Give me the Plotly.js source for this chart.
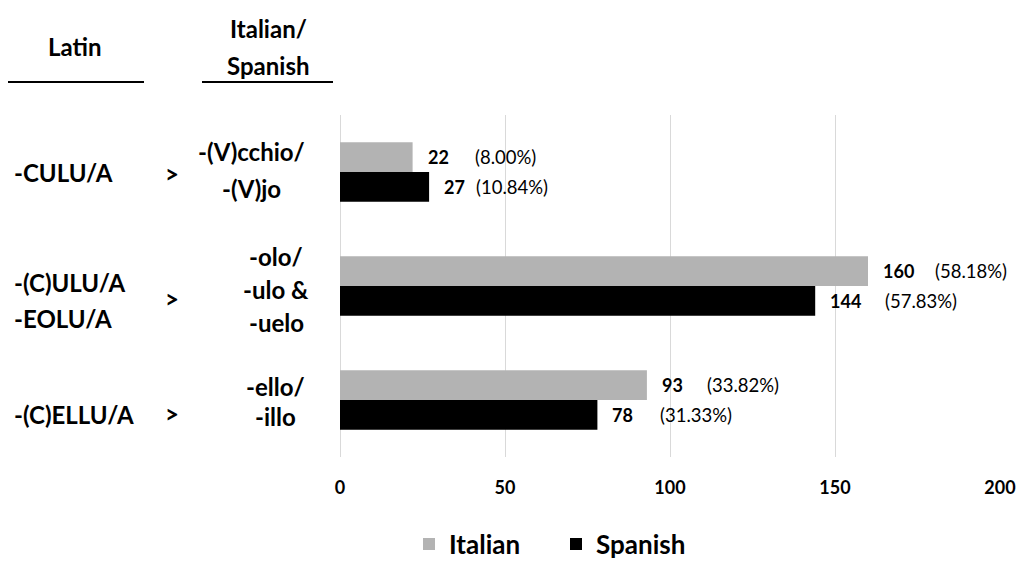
<!DOCTYPE html>
<html><head><meta charset="utf-8">
<script src="https://cdn.plot.ly/plotly-3.0.1.min.js"></script>
<style>html,body{margin:0;padding:0;background:#fff}#chart{width:1017px;height:564px}</style>
</head><body><div id="chart"></div>
<script>
// ---- data ----
const categories = ["-CULU/A", "-(C)ULU/A -EOLU/A", "-(C)ELLU/A"];
const latinLabels = ["-CULU/A", "-(C)ULU/A<br>-EOLU/A", "-(C)ELLU/A"];
const romanceLabels = ["-(V)cchio/<br>-(V)jo", "-olo/<br>-ulo &<br>-uelo", "-ello/<br>-illo"];
const italianValues = [22, 160, 93];
const spanishValues = [27, 144, 78];
const italianPct = ["(8.00%)", "(58.18%)", "(33.82%)"];
const spanishPct = ["(10.84%)", "(57.83%)", "(31.33%)"];
const xTicks = [0, 50, 100, 150, 200];
const headerLatin = "Latin";
const headerRomance = "Italian/<br>Spanish";
const arrowSign = ">";

// ---- layout helpers ----
const W = 1017, H = 564;
const M = {l: 340, r: 17, t: 115, b: 107, autoexpand: false};
const PW = W - M.l - M.r, PH = H - M.t - M.b;
const px = v => (v - M.l) / PW;
const py = v => (H - M.b - v) / PH;
const FONT = "Lato, 'Open Sans', sans-serif";
const bargap = 0.48;
const barOff = (1 - bargap) / 4;

// label box placement (pixels): vertical nudges (downward), line heights, horizontal centres
const latinShift = [0, 14, 14];
const arrowShift = [1, 12, 13];
const romanceShift = [-2, 3, 1];
const romanceX = [251, 276, 275];
const latinLH = 36, romanceLH = [37, 33, 30], headerLH = 37;
// horizontal offsets (px) of the percentage labels from the bar end
const pctShiftIt = [60, 65, 58];
const pctShiftEs = [45, 68, 61];

const traces = [
  {type: 'bar', orientation: 'h', name: 'Italian', y: categories, x: italianValues,
   marker: {color: '#b3b3b3'}, hoverinfo: 'skip'},
  {type: 'bar', orientation: 'h', name: 'Spanish', y: categories, x: spanishValues,
   marker: {color: '#000000'}, hoverinfo: 'skip'}
];

const annotations = [];
const labFont = {family: FONT, size: 24, color: '#000', weight: 'bold'};

categories.forEach((c, i) => {
  const ll = latinLabels[i].split('<br>');
  ll.forEach((ln, k) => {
    const off = (k - (ll.length - 1) / 2) * latinLH + latinShift[i];
    annotations.push({xref: 'paper', yref: 'y', x: px(12), y: i, xanchor: 'left', yanchor: 'middle',
      text: ln, showarrow: false, font: labFont, yshift: -off});
  });
  annotations.push({xref: 'paper', yref: 'y', x: px(172), y: i, xanchor: 'center', yanchor: 'middle',
    text: arrowSign, showarrow: false, font: labFont, yshift: -arrowShift[i]});
  const rl = romanceLabels[i].split('<br>');
  rl.forEach((ln, k) => {
    const off = (k - (rl.length - 1) / 2) * romanceLH[i] + romanceShift[i];
    annotations.push({xref: 'paper', yref: 'y', x: px(romanceX[i]), y: i, xanchor: 'center', yanchor: 'middle',
      text: ln, showarrow: false, font: labFont, yshift: -off});
  });
  // data labels
  [[italianValues, italianPct, -barOff, pctShiftIt], [spanishValues, spanishPct, barOff, pctShiftEs]].forEach(([vals, pcts, off, sh]) => {
    annotations.push({xref: 'x', yref: 'y', x: vals[i], y: i + off, xanchor: 'left', yanchor: 'middle',
      text: String(vals[i]), showarrow: false, xshift: 13,
      font: {family: FONT, size: 18, color: '#000', weight: 'bold'}});
    annotations.push({xref: 'x', yref: 'y', x: vals[i], y: i + off, xanchor: 'left', yanchor: 'middle',
      text: pcts[i], showarrow: false, xshift: sh[i],
      font: {family: FONT, size: 18.5, color: '#000'}});
  });
});
annotations.push({xref: 'paper', yref: 'paper', x: px(74), y: py(47), xanchor: 'center', yanchor: 'middle',
  text: headerLatin, showarrow: false, font: labFont});
headerRomance.split('<br>').forEach((ln, k) => {
  annotations.push({xref: 'paper', yref: 'paper', x: px(268), y: py(29 + k * headerLH), xanchor: 'center', yanchor: 'middle',
    text: ln, showarrow: false, font: labFont});
});

const shapes = [
  {type: 'line', xref: 'paper', yref: 'paper', x0: px(8), x1: px(144), y0: py(82), y1: py(82), line: {color: '#000', width: 2}},
  {type: 'line', xref: 'paper', yref: 'paper', x0: px(202), x1: px(333), y0: py(82), y1: py(82), line: {color: '#000', width: 2}}
];

const layout = {
  width: W, height: H, margin: M,
  paper_bgcolor: '#fff', plot_bgcolor: '#fff',
  barmode: 'group', bargap: bargap, bargroupgap: 0,
  showlegend: true,
  legend: {orientation: 'h', x: px(409), y: py(544), xanchor: 'left', yanchor: 'middle',
    font: {family: FONT, size: 26, color: '#000', weight: 'bold'}, entrywidth: 102, entrywidthmode: 'pixels',
    itemclick: false, itemdoubleclick: false, bgcolor: 'rgba(0,0,0,0)'},
  xaxis: {range: [0, 200], tickvals: xTicks, ticktext: xTicks.map(String), showgrid: true, gridcolor: '#d9d9d9', gridwidth: 1,
    zeroline: true, zerolinecolor: '#d9d9d9', zerolinewidth: 1, showline: false, ticks: '', automargin: false,
    ticklabelstandoff: 18, tickfont: {family: FONT, size: 18, color: '#000', weight: 'bold'}, fixedrange: true},
  yaxis: {type: 'category', autorange: 'reversed', showticklabels: false, showgrid: false, zeroline: false,
    showline: false, ticks: '', fixedrange: true, automargin: false},
  annotations: annotations, shapes: shapes, hovermode: false
};

Plotly.newPlot('chart', traces, layout, {displayModeBar: false, staticPlot: true});
</script>
</body></html>
